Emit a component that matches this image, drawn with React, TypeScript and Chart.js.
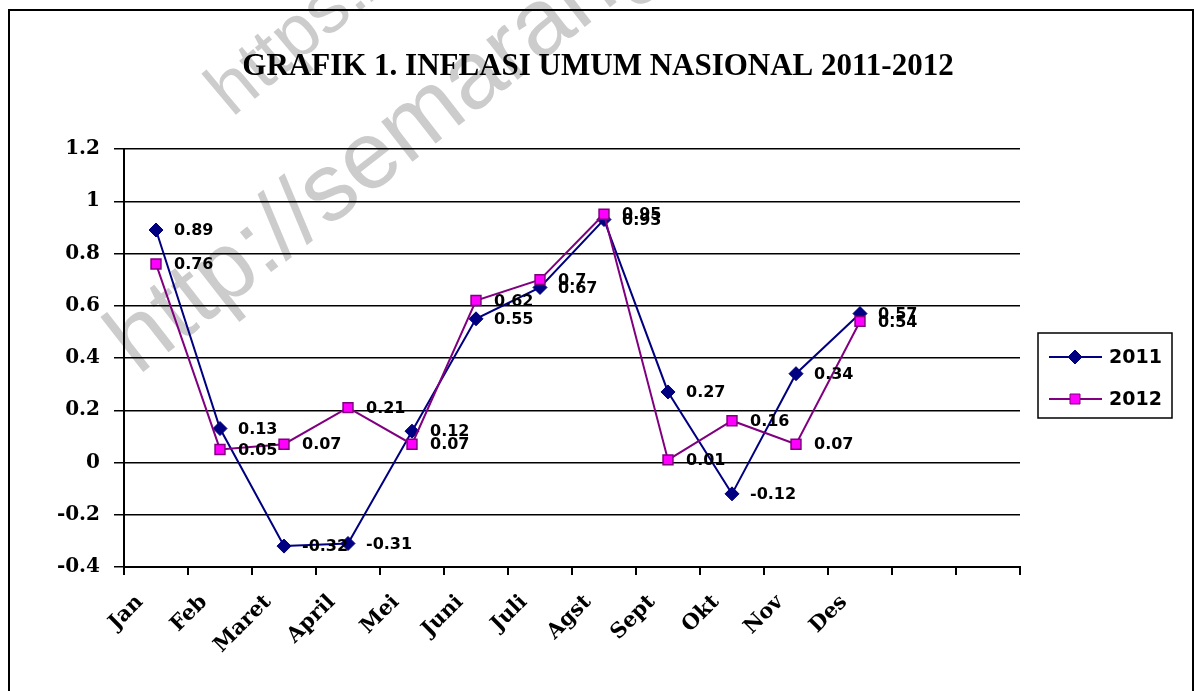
import React, { useEffect, useRef } from "react";
import { Chart, registerables } from "chart.js";

Chart.register(...registerables);

const months = ["Jan", "Feb", "Maret", "April", "Mei", "Juni", "Juli", "Agst", "Sept", "Okt", "Nov", "Des", "", ""];
const inflasi2011 = [0.89, 0.13, -0.32, -0.31, 0.12, 0.55, 0.67, 0.93, 0.27, -0.12, 0.34, 0.57];
const inflasi2012 = [0.76, 0.05, 0.07, 0.21, 0.07, 0.62, 0.7, 0.95, 0.01, 0.16, 0.07, 0.54];
const seriesNames = ["2011", "2012"];
const yMin = -0.4;
const yMax = 1.2;
const yStep = 0.2;
const titleText = "GRAFIK 1. INFLASI UMUM NASIONAL 2011-2012";
const watermarkMain = "http://semarangkota.bps.go.id";
const watermarkTop = "https://semarangkota.bps.go.id";

const W = 1194;
const H = 691;

const backgroundPlugin = {
  id: "bgWatermark",
  beforeDraw(chart: any) {
    const ctx = chart.ctx;
    ctx.save();
    ctx.fillStyle = "#ffffff";
    ctx.fillRect(0, 0, W, H);
    ctx.fillStyle = "#cccccc";
    ctx.textAlign = "left";
    ctx.textBaseline = "alphabetic";
    // lower watermark line
    ctx.save();
    ctx.translate(138, 376);
    ctx.rotate((-38 * Math.PI) / 180);
    ctx.font = "96px 'Liberation Sans'";
    ctx.fillText(watermarkMain, 0, 0);
    ctx.restore();
    // upper watermark line
    ctx.save();
    ctx.translate(232, 118);
    ctx.rotate((-40 * Math.PI) / 180);
    ctx.font = "74px 'Liberation Sans'";
    ctx.fillText(watermarkTop, 0, 0);
    ctx.restore();
    // outer frame
    ctx.strokeStyle = "#000000";
    ctx.lineWidth = 2;
    ctx.strokeRect(9, 10, 1184, 700);
    ctx.restore();
  },
};

const titlePlugin = {
  id: "customTitle",
  afterDraw(chart: any) {
    const ctx = chart.ctx;
    ctx.save();
    ctx.fillStyle = "#000000";
    ctx.font = "bold 31px 'Liberation Serif'";
    ctx.textAlign = "center";
    ctx.textBaseline = "middle";
    ctx.fillText(titleText, 598, 67);
    ctx.restore();
  },
};

const valueLabelPlugin = {
  id: "valueLabels",
  afterDatasetsDraw(chart: any) {
    const ctx = chart.ctx;
    ctx.save();
    ctx.fillStyle = "#000000";
    ctx.font = "bold 16px 'DejaVu Sans'";
    ctx.textAlign = "left";
    ctx.textBaseline = "middle";
    chart.data.datasets.forEach((ds: any, i: number) => {
      const meta = chart.getDatasetMeta(i);
      meta.data.forEach((pt: any, j: number) => {
        const v = ds.data[j];
        if (v === null || v === undefined) return;
        ctx.fillText(String(v), pt.x + 18, pt.y + 1);
      });
    });
    ctx.restore();
  },
};

const legendPlugin = {
  id: "boxLegend",
  afterDraw(chart: any) {
    const ctx = chart.ctx;
    ctx.save();
    const bx = 1038, by = 333, bw = 134, bh = 85;
    ctx.fillStyle = "#ffffff";
    ctx.fillRect(bx, by, bw, bh);
    ctx.strokeStyle = "#000000";
    ctx.lineWidth = 1.5;
    ctx.strokeRect(bx, by, bw, bh);
    const rows = [357, 399];
    chart.data.datasets.forEach((ds: any, i: number) => {
      const y = rows[i];
      ctx.strokeStyle = ds.borderColor;
      ctx.lineWidth = 2;
      ctx.beginPath();
      ctx.moveTo(1049, y);
      ctx.lineTo(1102, y);
      ctx.stroke();
      const cx = 1075;
      ctx.fillStyle = ds.pointBackgroundColor;
      ctx.strokeStyle = ds.pointBorderColor;
      ctx.lineWidth = 1;
      ctx.beginPath();
      if (ds.pointStyle === "rectRot") {
        ctx.moveTo(cx, y - 7);
        ctx.lineTo(cx + 7, y);
        ctx.lineTo(cx, y + 7);
        ctx.lineTo(cx - 7, y);
        ctx.closePath();
      } else {
        ctx.rect(cx - 5, y - 5, 10, 10);
      }
      ctx.fill();
      ctx.stroke();
      ctx.fillStyle = "#000000";
      ctx.font = "bold 19px 'DejaVu Sans'";
      ctx.textAlign = "left";
      ctx.textBaseline = "middle";
      ctx.fillText(ds.label, 1109, y + 1);
    });
    ctx.restore();
  },
};

export default function App() {
  const canvasRef = useRef<HTMLCanvasElement | null>(null);

  useEffect(() => {
    const canvas = canvasRef.current;
    if (!canvas) return;
    const chart = new Chart(canvas, {
      type: "line",
      data: {
        labels: months,
        datasets: [
          {
            label: seriesNames[0],
            data: inflasi2011,
            borderColor: "#000080",
            backgroundColor: "#000080",
            pointBackgroundColor: "#000080",
            pointBorderColor: "#000080",
            pointStyle: "rectRot",
            pointRadius: 7,
            pointBorderWidth: 1,
            borderWidth: 2,
            tension: 0,
            order: 1,
          },
          {
            label: seriesNames[1],
            data: inflasi2012,
            borderColor: "#800080",
            backgroundColor: "#FF00FF",
            pointBackgroundColor: "#FF00FF",
            pointBorderColor: "#800080",
            pointStyle: "rect",
            pointRadius: 7,
            pointBorderWidth: 1.5,
            borderWidth: 2,
            tension: 0,
            order: 0,
          },
        ] as any,
      },
      options: {
        responsive: false,
        animation: false,
        devicePixelRatio: 1,
        layout: { padding: { top: 149, right: 174, bottom: 0, left: 0 } },
        plugins: {
          legend: { display: false },
          title: { display: false },
          tooltip: { enabled: false },
        },
        scales: {
          x: {
            offset: true,
            grid: {
              offset: true,
              drawOnChartArea: false,
              drawTicks: true,
              tickLength: 8,
              color: "#000000",
              lineWidth: 2,
            },
            border: { display: true, color: "#000000", width: 2 },
            ticks: {
              autoSkip: false,
              maxRotation: 45,
              minRotation: 45,
              padding: 15,
              labelOffset: -16,
              color: "#000000",
              font: { family: "'DejaVu Serif'", weight: "bold", size: 21 },
            },
            afterFit(scale: any) {
              scale.height = 124;
            },
          },
          y: {
            min: yMin,
            max: yMax,
            ticks: {
              stepSize: yStep,
              padding: 14,
              color: "#000000",
              font: { family: "'DejaVu Serif'", weight: "bold", size: 20 },
              callback: (v: any) => String(Number(Number(v).toFixed(1))),
            },
            grid: {
              color: "#000000",
              lineWidth: 1.5,
              tickLength: 10,
              drawTicks: true,
            },
            border: { display: true, color: "#000000", width: 2 },
            afterFit(scale: any) {
              scale.width = 124;
            },
          },
        },
      } as any,
      plugins: [backgroundPlugin, valueLabelPlugin, titlePlugin, legendPlugin],
    });
    return () => chart.destroy();
  }, []);

  return (
    <div style={{ position: "fixed", left: 0, top: 0, width: W, height: H, background: "#fff" }}>
      <canvas ref={canvasRef} width={W} height={H} style={{ width: W, height: H, display: "block" }} />
    </div>
  );
}
